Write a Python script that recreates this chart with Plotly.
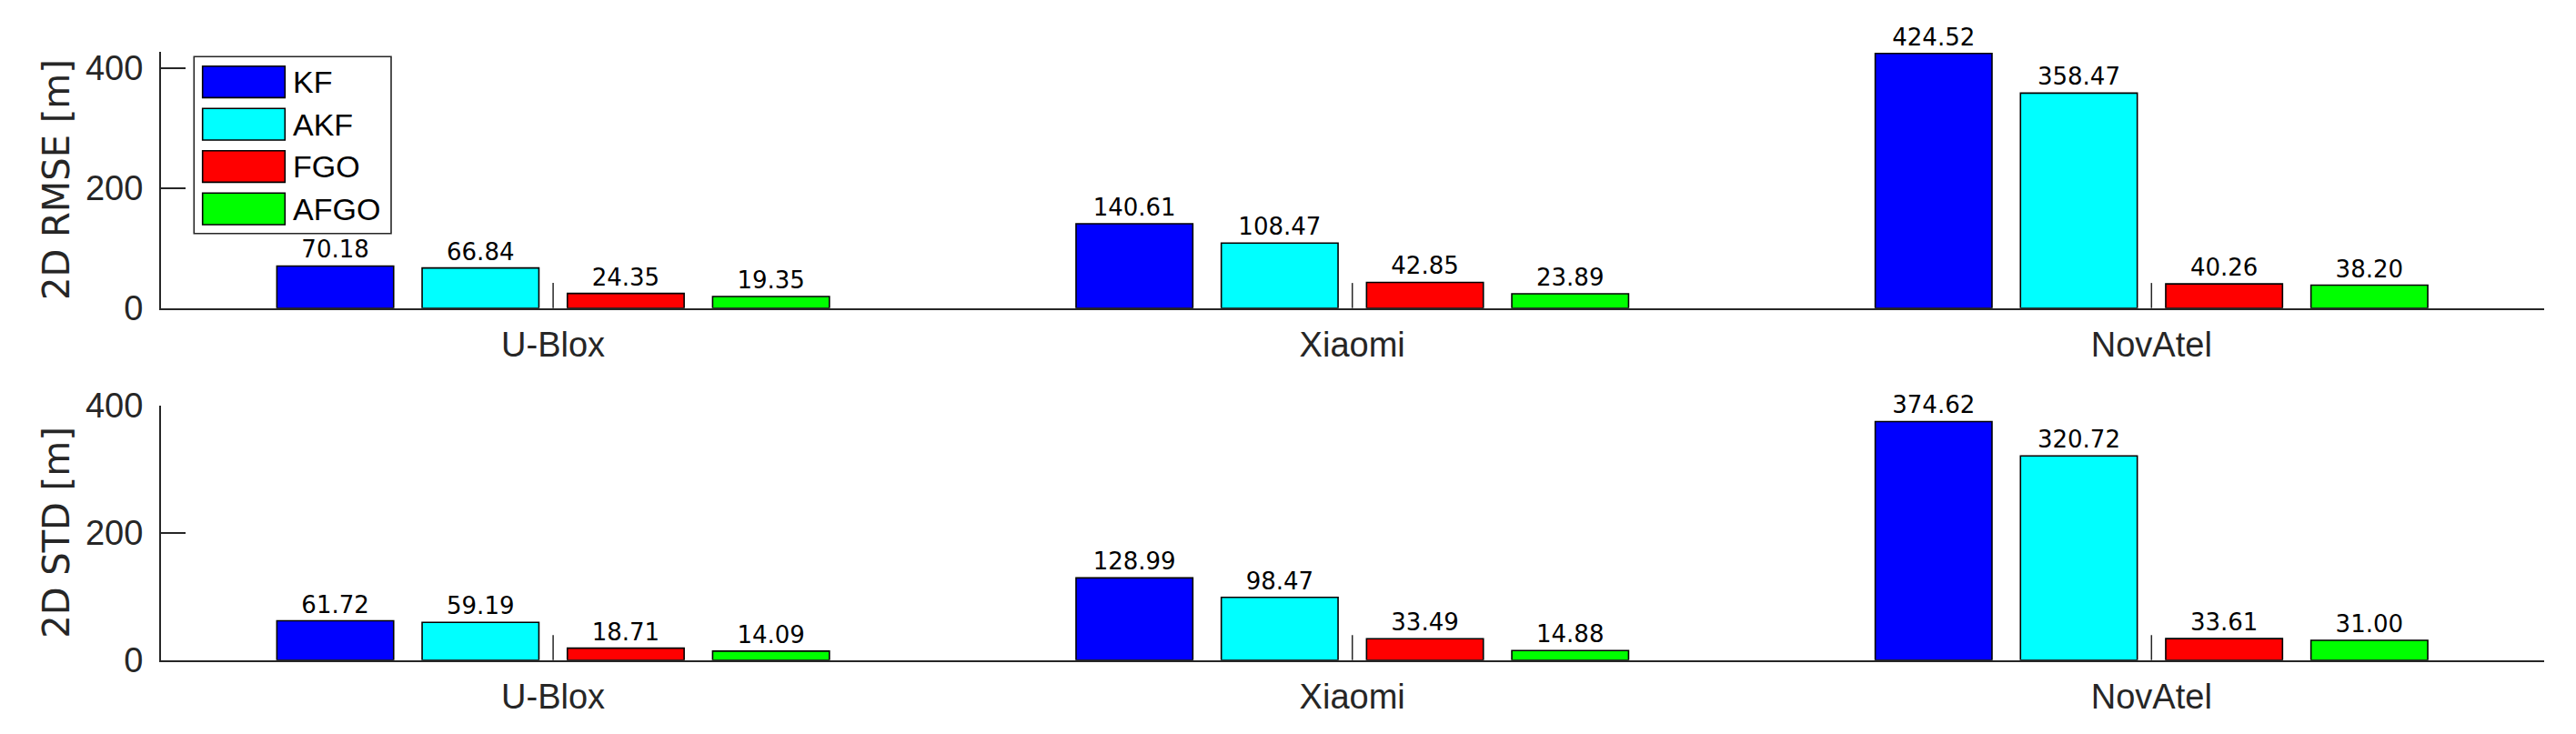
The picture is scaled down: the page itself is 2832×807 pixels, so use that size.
import plotly.graph_objects as go

# ---------------- data ----------------
categories = ["U-Blox", "Xiaomi", "NovAtel"]
methods = ["KF", "AKF", "FGO", "AFGO"]
colors = ["#0000FF", "#00FFFF", "#FF0000", "#00FF00"]

rmse_kf = [70.18, 140.61, 424.52]
rmse_akf = [66.84, 108.47, 358.47]
rmse_fgo = [24.35, 42.85, 40.26]
rmse_afgo = [19.35, 23.89, 38.20]

std_kf = [61.72, 128.99, 374.62]
std_akf = [59.19, 98.47, 320.72]
std_fgo = [18.71, 33.49, 33.61]
std_afgo = [14.09, 14.88, 31.00]

y_ticks = [0, 200, 400]
y_titles = ["2D RMSE [m]", "2D STD [m]"]

# ---------------- layout helpers ----------------
# the page body has an 8px margin, so the figure is drawn 8px in from the
# window corner; positions below are measured in window pixels.
OFF = 8
W, H = 2832 - 2 * OFF, 807 - 2 * OFF


def px_x(p):
    return (p - OFF) / W


def px_y(p):
    return 1 - (p - OFF) / H


AX = "#262626"
TICK_FONT = dict(family="Liberation Sans, Arial, sans-serif", size=38, color=AX)
LABEL_FONT = dict(family="DejaVu Sans, sans-serif", size=26, color="black")

fig = go.Figure()

panels = [
    ("x", "y", [rmse_kf, rmse_akf, rmse_fgo, rmse_afgo]),
    ("x2", "y2", [std_kf, std_akf, std_fgo, std_afgo]),
]
for xa, ya, series in panels:
    for name, col, vals in zip(methods, colors, series):
        fig.add_trace(go.Bar(
            x=categories, y=vals, name=name, xaxis=xa, yaxis=ya,
            marker=dict(color=col, line=dict(color="black", width=1.6)),
            text=vals, texttemplate="%{y:.2f}", textposition="outside",
            textfont=LABEL_FONT, outsidetextfont=LABEL_FONT,
            cliponaxis=False, showlegend=False, hoverinfo="x+y+name",
        ))

x_dom = [px_x(176.7), px_x(2796.7)]
x_rng = [-0.491, 2.491]
common_x = dict(type="category", domain=x_dom, range=x_rng, showline=True,
                linecolor=AX, linewidth=1.6, ticks="", showgrid=False,
                zeroline=False, tickfont=TICK_FONT, ticklabelstandoff=6,
                automargin=False)
common_y = dict(tickvals=y_ticks, ticks="inside", ticklen=27, tickwidth=1.5,
                tickcolor=AX, showline=True, linecolor=AX, linewidth=1.6,
                showgrid=False, zeroline=False, tickfont=TICK_FONT,
                ticklabelstandoff=10, automargin=False)

top_dom = [px_y(338.7), px_y(57.3)]
bot_dom = [px_y(725.7), px_y(445.7)]

fig.update_layout(
    width=W, height=H,
    margin=dict(l=0, r=0, t=0, b=0),
    paper_bgcolor="white", plot_bgcolor="white",
    barmode="group", bargap=0.273, bargroupgap=0.196,
    xaxis=dict(anchor="y", **common_x),
    yaxis=dict(anchor="x", domain=top_dom, range=[0, 426.8], **common_y),
    xaxis2=dict(anchor="y2", **common_x),
    yaxis2=dict(anchor="x2", domain=bot_dom, range=[0, 400], **common_y),
)

shapes = []
annotations = []

# small separator marks at each category centre
for xr, yr in [("x", "y domain"), ("x2", "y2 domain")]:
    for c in categories:
        shapes.append(dict(type="line", xref=xr, yref=yr, x0=c, x1=c,
                           y0=0, y1=0.098, line=dict(color=AX, width=1.5)))

# y-axis titles
for title, dom in zip(y_titles, [top_dom, bot_dom]):
    annotations.append(dict(text=title, xref="paper", yref="paper",
                            x=px_x(62), y=(dom[0] + dom[1]) / 2,
                            xanchor="center", yanchor="middle",
                            textangle=-90, showarrow=False,
                            font=dict(family="DejaVu Sans, sans-serif",
                                      size=40, color=AX)))

# legend (drawn box, patches and labels)
shapes.append(dict(type="rect", xref="paper", yref="paper",
                   x0=px_x(213.3), x1=px_x(430), y0=px_y(256.7), y1=px_y(62.3),
                   line=dict(color=AX, width=1.6), fillcolor="white",
                   layer="above"))
patch_tops = [72.7, 119.3, 165.7, 212.3]
patch_h = 34.7
for name, col, top in zip(methods, colors, patch_tops):
    shapes.append(dict(type="rect", xref="paper", yref="paper",
                       x0=px_x(222.7), x1=px_x(313.3),
                       y0=px_y(top + patch_h), y1=px_y(top),
                       line=dict(color="black", width=1.6), fillcolor=col,
                       layer="above"))
    annotations.append(dict(text=name, xref="paper", yref="paper",
                            x=px_x(320), y=px_y(top + patch_h / 2),
                            xanchor="left", yanchor="middle", showarrow=False,
                            font=dict(family="Liberation Sans, Arial, sans-serif",
                                      size=34, color="black")))

fig.update_layout(shapes=shapes, annotations=annotations)

fig.write_html("out.html")
